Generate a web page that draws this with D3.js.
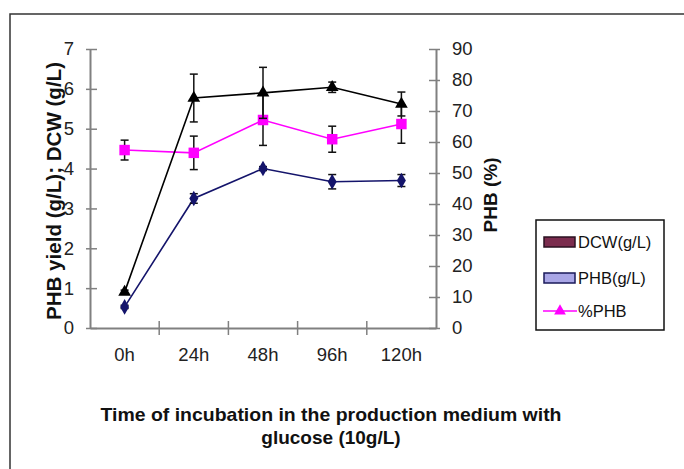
<!DOCTYPE html>
<html>
<head>
<meta charset="utf-8">
<script src="https://cdn.jsdelivr.net/npm/d3@7"></script>
<style>
  body { margin: 0; background: #fff; }
  svg { font-family: "Liberation Sans", Arial, sans-serif; }
  .tick text { font-size: 18.5px; fill: #222; font-family: "Liberation Sans", Arial, sans-serif; }
</style>
</head>
<body>
<div class="chart"></div>
<script>
var svgWidth = 684;
var svgHeight = 469;

// data
var times = ["0h", "24h", "48h", "96h", "120h"];
var dcw = [0.9, 5.77, 5.9, 6.04, 5.62];
var dcwErr = [0.05, 0.6, 0.64, 0.13, 0.3];
var phb = [0.53, 3.25, 4.0, 3.67, 3.7];
var phbErr = [0.04, 0.12, 0.05, 0.18, 0.15];
var pctPhb = [57.4, 56.5, 67.1, 60.9, 65.8];
var pctErr = [3.2, 5.4, 8.2, 4.2, 6.2];
var leftTicks = [0, 1, 2, 3, 4, 5, 6, 7];
var rightTicks = [0, 10, 20, 30, 40, 50, 60, 70, 80, 90];

var plot = { left: 90, right: 436, top: 49, bottom: 328 };

var svg = d3.select(".chart")
  .append("svg")
  .attr("width", svgWidth)
  .attr("height", svgHeight);

// outer frame (only top and left visible in the picture)
svg.append("rect")
  .attr("x", 10).attr("y", 14)
  .attr("width", 720).attr("height", 520)
  .attr("fill", "none")
  .attr("stroke", "#333")
  .attr("stroke-width", 1.5);

var x = d3.scaleBand()
  .domain(times)
  .range([plot.left, plot.right])
  .padding(0);

var yLeft = d3.scaleLinear()
  .domain([0, 7])
  .range([plot.bottom, plot.top]);

var yRight = d3.scaleLinear()
  .domain([0, 90])
  .range([plot.bottom, plot.top]);

var axisColor = "#808080";

// left axis
var leftAxis = svg.append("g")
  .attr("transform", `translate(${plot.left},0)`)
  .call(d3.axisLeft(yLeft).tickValues(leftTicks).tickFormat(d3.format("d"))
    .tickSize(0).tickPadding(16));
leftAxis.select(".domain").attr("stroke", axisColor).attr("stroke-width", 2);
leftAxis.selectAll(".tick line")
  .attr("x1", -4).attr("x2", 7)
  .attr("stroke", axisColor).attr("stroke-width", 1.5);

// right axis
var rightAxis = svg.append("g")
  .attr("transform", `translate(${plot.right},0)`)
  .call(d3.axisRight(yRight).tickValues(rightTicks).tickSize(0).tickPadding(16));
rightAxis.select(".domain").attr("stroke", axisColor).attr("stroke-width", 2);
rightAxis.selectAll(".tick line")
  .attr("x1", -7).attr("x2", 4)
  .attr("stroke", axisColor).attr("stroke-width", 1.5);

// bottom axis: labels at band centres, ticks between categories
var bottomAxis = svg.append("g")
  .attr("transform", `translate(0,${plot.bottom})`)
  .call(d3.axisBottom(x).tickSize(0).tickPadding(20));
bottomAxis.select(".domain").attr("stroke", axisColor).attr("stroke-width", 2);
bottomAxis.selectAll(".sep")
  .data(times.slice(1))
  .enter()
  .append("line")
  .attr("x1", d => x(d)).attr("x2", d => x(d))
  .attr("y1", -7).attr("y2", 7)
  .attr("stroke", axisColor).attr("stroke-width", 1.5);

// helper to draw one series
function drawSeries(values, errs, scale, color, symbol, size) {
  var g = svg.append("g");
  var cx = (d, i) => x(times[i]) + x.bandwidth() / 2;

  g.append("path")
    .datum(values)
    .attr("fill", "none")
    .attr("stroke", color)
    .attr("stroke-width", 1.6)
    .attr("d", d3.line().x((d, i) => cx(d, i)).y(d => scale(d)));

  var bars = g.selectAll(".err")
    .data(values)
    .enter()
    .append("g");
  bars.append("line")
    .attr("x1", cx).attr("x2", cx)
    .attr("y1", (d, i) => scale(d + errs[i]))
    .attr("y2", (d, i) => scale(d - errs[i]))
    .attr("stroke", "#111").attr("stroke-width", 1.5);
  bars.append("line")
    .attr("x1", (d, i) => cx(d, i) - 4).attr("x2", (d, i) => cx(d, i) + 4)
    .attr("y1", (d, i) => scale(d + errs[i]))
    .attr("y2", (d, i) => scale(d + errs[i]))
    .attr("stroke", "#111").attr("stroke-width", 1.5);
  bars.append("line")
    .attr("x1", (d, i) => cx(d, i) - 4).attr("x2", (d, i) => cx(d, i) + 4)
    .attr("y1", (d, i) => scale(d - errs[i]))
    .attr("y2", (d, i) => scale(d - errs[i]))
    .attr("stroke", "#111").attr("stroke-width", 1.5);

  g.selectAll(".mark")
    .data(values)
    .enter()
    .append("path")
    .attr("transform", (d, i) => `translate(${cx(d, i)},${scale(d)})`)
    .attr("d", d3.symbol().type(symbol).size(size))
    .attr("fill", color);
}

drawSeries(phb, phbErr, yLeft, "#14146b", d3.symbolDiamond, 70);
drawSeries(pctPhb, pctErr, yRight, "#ff00ff", d3.symbolSquare, 110);
drawSeries(dcw, dcwErr, yLeft, "#000000", d3.symbolTriangle, 70);

// axis titles
svg.append("text")
  .attr("transform", "translate(61,191) rotate(-90)")
  .attr("text-anchor", "middle")
  .style("font-size", "20px")
  .attr("font-weight", "bold")
  .attr("fill", "#111")
  .attr("textLength", 258)
  .attr("lengthAdjust", "spacingAndGlyphs")
  .text("PHB yield (g/L); DCW (g/L)");

svg.append("text")
  .attr("transform", "translate(497,195) rotate(-90)")
  .attr("text-anchor", "middle")
  .style("font-size", "19px")
  .attr("font-weight", "bold")
  .attr("fill", "#111")
  .text("PHB (%)");

svg.append("text")
  .attr("x", 331).attr("y", 421)
  .attr("text-anchor", "middle")
  .style("font-size", "19px")
  .attr("font-weight", "bold")
  .attr("fill", "#111")
  .attr("textLength", 461)
  .attr("lengthAdjust", "spacingAndGlyphs")
  .text("Time of incubation in the production medium with");

svg.append("text")
  .attr("x", 331).attr("y", 444)
  .attr("text-anchor", "middle")
  .style("font-size", "19px")
  .attr("font-weight", "bold")
  .attr("fill", "#111")
  .text("glucose (10g/L)");

// legend
var legend = svg.append("g");
legend.append("rect")
  .attr("x", 536).attr("y", 220)
  .attr("width", 128).attr("height", 110)
  .attr("fill", "#fff")
  .attr("stroke", "#111")
  .attr("stroke-width", 1.5);

var legendNames = ["DCW(g/L)", "PHB(g/L)", "%PHB"];
var legendFills = ["#7b2c4e", "#a9a6e6", null];
var legendStrokes = ["#2a1020", "#1a1a5a", null];
var legendY = [242, 278, 311];

legendNames.forEach(function(name, i) {
  if (legendFills[i]) {
    legend.append("rect")
      .attr("x", 544).attr("y", legendY[i] - 5)
      .attr("width", 31).attr("height", 10)
      .attr("fill", legendFills[i])
      .attr("stroke", legendStrokes[i])
      .attr("stroke-width", 1.5);
  } else {
    legend.append("line")
      .attr("x1", 543).attr("x2", 577)
      .attr("y1", legendY[i]).attr("y2", legendY[i])
      .attr("stroke", "#ff00ff").attr("stroke-width", 1.6);
    legend.append("path")
      .attr("transform", `translate(560,${legendY[i]})`)
      .attr("d", d3.symbol().type(d3.symbolTriangle).size(60))
      .attr("fill", "#ff00ff");
  }
  legend.append("text")
    .attr("x", 578).attr("y", legendY[i])
    .attr("dy", "0.36em")
    .style("font-size", "16.5px")
    .attr("fill", "#111")
    .text(name);
});
</script>
</body>
</html>
